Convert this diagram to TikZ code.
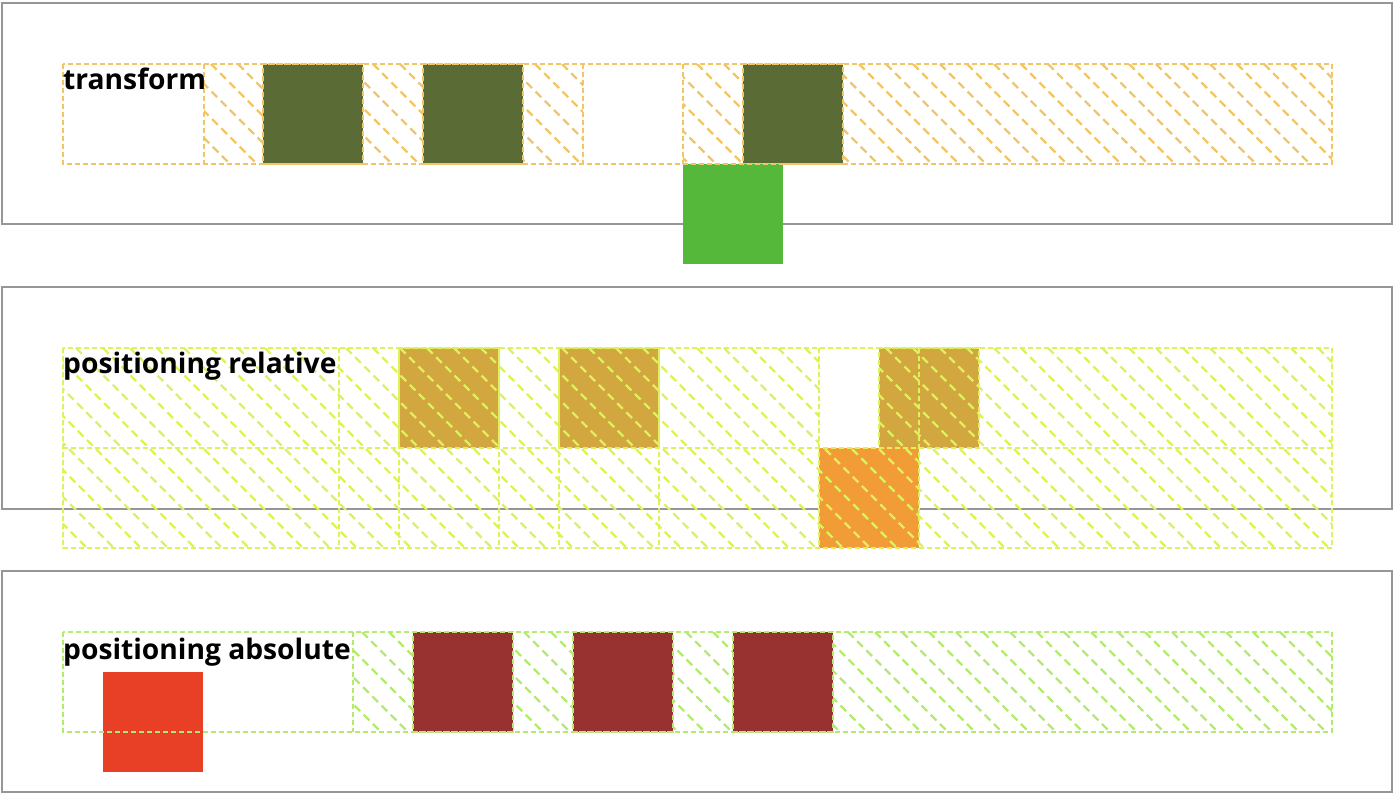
\documentclass[tikz,border=0pt]{standalone}
\usepackage{fontspec}
\setmainfont{Open Sans}
\usepackage{xcolor}
\usepackage{tikz}

\definecolor{framegray}{RGB}{150,150,150}
\definecolor{gridorange}{RGB}{240,198,104}
\definecolor{gridlime}{RGB}{222,240,92}
\definecolor{gridgreen}{RGB}{180,234,112}
\definecolor{olive}{RGB}{91,107,54}
\definecolor{leaf}{RGB}{86,184,58}
\definecolor{gold}{RGB}{211,167,64}
\definecolor{tangerine}{RGB}{242,156,55}
\definecolor{brick}{RGB}{151,50,48}
\definecolor{vermilion}{RGB}{232,64,38}

\tikzset{
  frame/.style={draw=framegray, line width=2pt},
  gridline/.style={line width=1.3pt, dash pattern=on 5pt off 3pt},
  hatchline/.style={line width=2.4pt, dash pattern=on 8pt off 5pt},
  itembox/.style={minimum size=100pt, inner sep=0pt, outer sep=0pt},
  rowlabel/.style={anchor=base west, inner sep=0pt,
    font=\fontsize{28.2}{33}\selectfont\bfseries},
}

\begin{document}
\begin{tikzpicture}[x=1pt, y=-1pt]
		\useasboundingbox (0,0) rectangle (1394,794);
		
		% Transform
		\draw[frame] (2,3) rectangle (1392,224);
		\begin{scope}
			\clip (204,64) rectangle (583,164) (683,64) rectangle (1332,164);
			\foreach \x in {-140,-113,...,1332}
				\draw[hatchline, draw=gridorange] (\x,64) -- ++(100,100);
		\end{scope}
		\node[itembox, fill=olive, draw=gridorange, gridline] (t1) at (313,114) {};
		\node[itembox, fill=olive, draw=gridorange, gridline] (t2) at (473,114) {};
		\node[itembox, fill=olive, draw=gridorange, gridline] (t4) at (793,114) {};
		\node[itembox, fill=leaf] (t3) at (733,214) {};
		\draw[gridline, draw=gridorange] (63,64) rectangle (1332,164);
		\foreach \x in {204,583,683}
			\draw[gridline, draw=gridorange] (\x,64) -- (\x,164);
		\node[rowlabel] (tlabel) at (63,90) {transform};
		
		% Positioning relative
		\draw[frame] (2,287) rectangle (1392,509);
		\node[itembox, fill=gold, draw=gridlime, gridline] (r1) at (449,398) {};
		\node[itembox, fill=gold, draw=gridlime, gridline] (r2) at (609,398) {};
		\node[itembox, fill=gold, draw=gridlime, gridline] (r4) at (929,398) {};
		\node[itembox, fill=tangerine] (r3) at (869,498) {};
		\begin{scope}
			\clip (63,348) rectangle (819,448) (879,348) rectangle (1332,448)
				(63,448) rectangle (1332,548);
			\foreach \x in {-140,-113,...,1332}
				\draw[hatchline, draw=gridlime] (\x,348) -- ++(200,200);
		\end{scope}
		\draw[gridline, draw=gridlime] (63,348) rectangle (1332,548) (63,448) -- (1332,448);
		\foreach \x in {339,399,499,559,659,819,919}
			\draw[gridline, draw=gridlime] (\x,348) -- (\x,548);
		\node[rowlabel] (rlabel) at (63,373) {positioning relative};
		
		% Positioning absolute
		\draw[frame] (2,571) rectangle (1392,792);
		\begin{scope}
			\clip (353,632) rectangle (1332,732);
			\foreach \x in {200,227,...,1332}
				\draw[hatchline, draw=gridgreen] (\x,632) -- ++(100,100);
		\end{scope}
		\node[itembox, fill=brick, draw=gridgreen, gridline] (a1) at (463,682) {};
		\node[itembox, fill=brick, draw=gridgreen, gridline] (a2) at (623,682) {};
		\node[itembox, fill=brick, draw=gridgreen, gridline] (a3) at (783,682) {};
		\node[itembox, fill=vermilion] (a0) at (153,722) {};
		\draw[gridline, draw=gridgreen] (63,632) rectangle (1332,732) (353,632) -- (353,732);
		\node[rowlabel] (alabel) at (63,659) {positioning absolute};
	\end{tikzpicture}
\end{document}
